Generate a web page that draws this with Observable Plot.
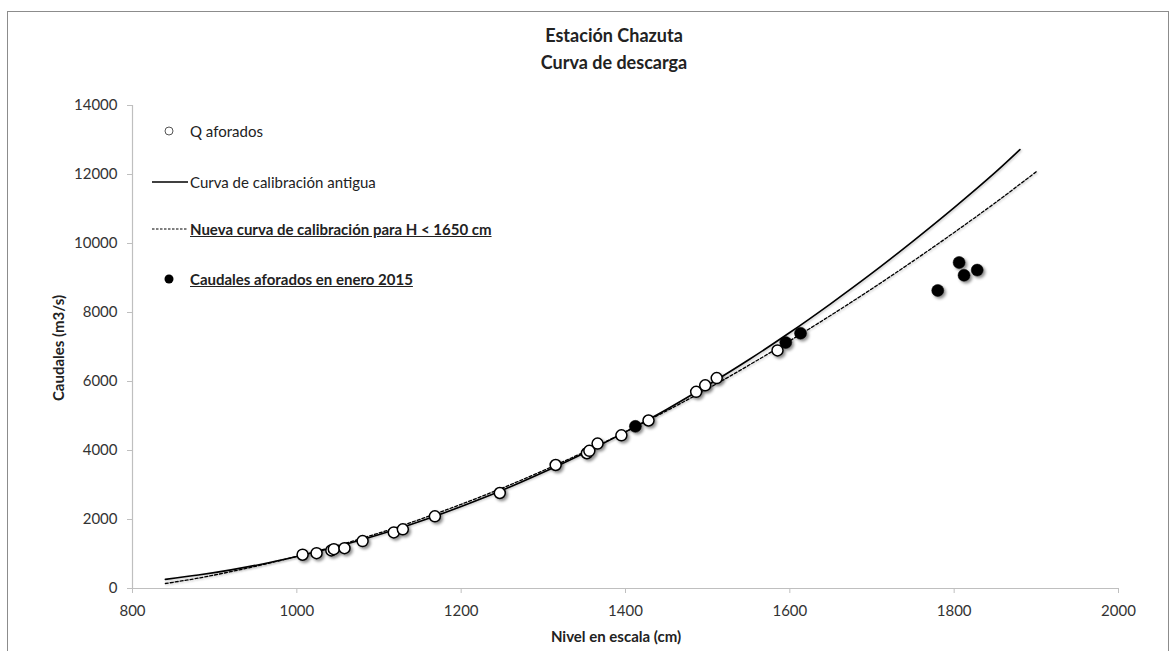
<!DOCTYPE html>
<html>
<head>
<meta charset="utf-8">
<script src="https://cdn.jsdelivr.net/npm/d3@7"></script>
<script src="https://cdn.jsdelivr.net/npm/@observablehq/plot@0.6"></script>
<style>
  body { margin: 0; background: #fff; font-family: Lato, "Open Sans", sans-serif; }
  #wrap { position: relative; width: 1176px; height: 651px; overflow: hidden; background: #fff; }
  #frame { position: absolute; left: 7px; top: 11px; width: 1160px; height: 720px; border: 1px solid #8c8c8c; }
  .title { position: absolute; left: 404px; width: 420px; text-align: center; font-weight: bold; font-size: 18px; color: #222; line-height: 20px; }
  .axt { position: absolute; font-weight: bold; font-size: 15px; color: #222; white-space: nowrap; }
  #chart { position: absolute; left: 0; top: 0; }
  .leg { position: absolute; left: 148px; height: 22px; display: flex; align-items: center; font-size: 15px; color: #222; white-space: nowrap; }
  .leg svg { margin-right: 2px; }
  .leg.b span { font-weight: bold; text-decoration: underline; }
</style>
</head>
<body>
<div id="wrap">
  <div id="frame"></div>
  <div id="chart"></div>
  <div class="title" style="top:25px">Estación Chazuta</div>
  <div class="title" style="top:52px">Curva de descarga</div>
  <div class="axt" id="xt" style="left:616px; top:627px; transform:translateX(-50%)">Nivel en escala (cm)</div>
  <div class="axt" id="yt" style="left:58px; top:348px; transform:translate(-50%,-50%) rotate(-90deg)">Caudales (m3/s)</div>
  <div class="leg" style="top:120px"><svg width="40" height="22"><circle cx="21" cy="11" r="4" fill="#fff" stroke="#555" stroke-width="1"/></svg><span>Q aforados</span></div>
  <div class="leg" style="top:171px"><svg width="40" height="22"><line x1="4" y1="11" x2="40" y2="11" stroke="#000" stroke-width="1.4"/></svg><span>Curva de calibración antigua</span></div>
  <div class="leg b" style="top:218px"><svg width="40" height="22"><line x1="4" y1="11" x2="40" y2="11" stroke="#000" stroke-width="1.2" stroke-dasharray="2.5,1.5"/></svg><span>Nueva curva de calibración para H &lt; 1650 cm</span></div>
  <div class="leg b" style="top:268px"><svg width="40" height="22"><circle cx="21" cy="11" r="4.5" fill="#000"/></svg><span>Caudales aforados en enero 2015</span></div>
</div>
<script>
// Axis ticks
const xTicks = [800, 1000, 1200, 1400, 1600, 1800, 2000];
const yTicks = [0, 2000, 4000, 6000, 8000, 10000, 12000, 14000];

// Q aforados (open circles)
const hAforados = [1007, 1024, 1042, 1045, 1058, 1080, 1118, 1129, 1168, 1247, 1315, 1353, 1356, 1366, 1395, 1428, 1486, 1497, 1511, 1585];
const qAforados = [979, 1025, 1104, 1141, 1170, 1374, 1626, 1714, 2091, 2768, 3580, 3920, 3990, 4200, 4440, 4870, 5700, 5890, 6100, 6900];

// Caudales aforados en enero 2015 (filled circles)
const hEnero = [1412, 1595, 1613, 1780, 1806, 1812, 1828];
const qEnero = [4700, 7130, 7400, 8640, 9450, 9080, 9230];

// Curva de calibración antigua (solid)
const hAntigua = [840, 880, 920, 960, 1000, 1040, 1080, 1120, 1160, 1200, 1250, 1300, 1350, 1400, 1450, 1500, 1550, 1600, 1650, 1700, 1750, 1800, 1850, 1880];
const qAntigua = [265, 390, 540, 720, 930, 1160, 1420, 1710, 2030, 2380, 2850, 3370, 3930, 4540, 5190, 5890, 6630, 7420, 8260, 9140, 10070, 11040, 12060, 12720];

// Nueva curva de calibración (dashed)
const hNueva = [840, 880, 920, 960, 1000, 1040, 1080, 1120, 1160, 1200, 1250, 1300, 1350, 1400, 1450, 1500, 1550, 1600, 1650, 1700, 1750, 1800, 1850, 1900];
const qNueva = [145, 300, 490, 700, 930, 1180, 1460, 1760, 2090, 2440, 2910, 3420, 3960, 4540, 5150, 5790, 6470, 7180, 7920, 8690, 9490, 10320, 11180, 12080];

const zip = (hs, qs) => hs.map((h, i) => ({h, q: qs[i]}));
const aforados = zip(hAforados, qAforados);
const enero = zip(hEnero, qEnero);
const antigua = zip(hAntigua, qAntigua);
const nueva = zip(hNueva, qNueva);

const fmt = d => String(d);

const plot = Plot.plot({
  width: 1176,
  height: 651,
  marginLeft: 132,
  marginRight: 58,
  marginTop: 105,
  marginBottom: 63,
  x: {domain: [800, 2000]},
  y: {domain: [0, 14000]},
  style: {fontFamily: "Lato, 'Open Sans', sans-serif", fontSize: "15px", color: "#333", background: "transparent", overflow: "visible"},
  marks: [
    Plot.ruleY([0], {stroke: "#bfbfbf", strokeWidth: 1.2}),
    Plot.ruleX([800], {stroke: "#bfbfbf", strokeWidth: 1.2}),
    Plot.axisX({ticks: xTicks, tickSize: 5, tickPadding: 12, tickFormat: fmt, stroke: "#bfbfbf", label: null}),
    Plot.axisY({ticks: yTicks, tickSize: 5, tickPadding: 10, tickFormat: fmt, stroke: "#bfbfbf", label: null}),
    Plot.line(antigua, {x: "h", y: "q", stroke: "#000", strokeWidth: 1.6, curve: "catmull-rom"}),
    Plot.line(nueva, {x: "h", y: "q", stroke: "#000", strokeWidth: 1.3, strokeDasharray: "3,2", curve: "catmull-rom"}),
    Plot.dot(aforados, {x: "h", y: "q", r: 5.5, fill: "#fff", stroke: "#000", strokeWidth: 1.5}),
    Plot.dot(enero, {x: "h", y: "q", r: 6, fill: "#000", stroke: "#000", strokeWidth: 0.5})
  ]
});
plot.querySelectorAll('g[aria-label="dot"]').forEach(g => {
  g.style.filter = "drop-shadow(2px 2px 1.5px rgba(0,0,0,0.45))";
});
plot.querySelectorAll('g[aria-label="line"]').forEach(g => {
  g.style.filter = "drop-shadow(1.5px 1.5px 1px rgba(0,0,0,0.25))";
});
document.getElementById("chart").appendChild(plot);
</script>
</body>
</html>
